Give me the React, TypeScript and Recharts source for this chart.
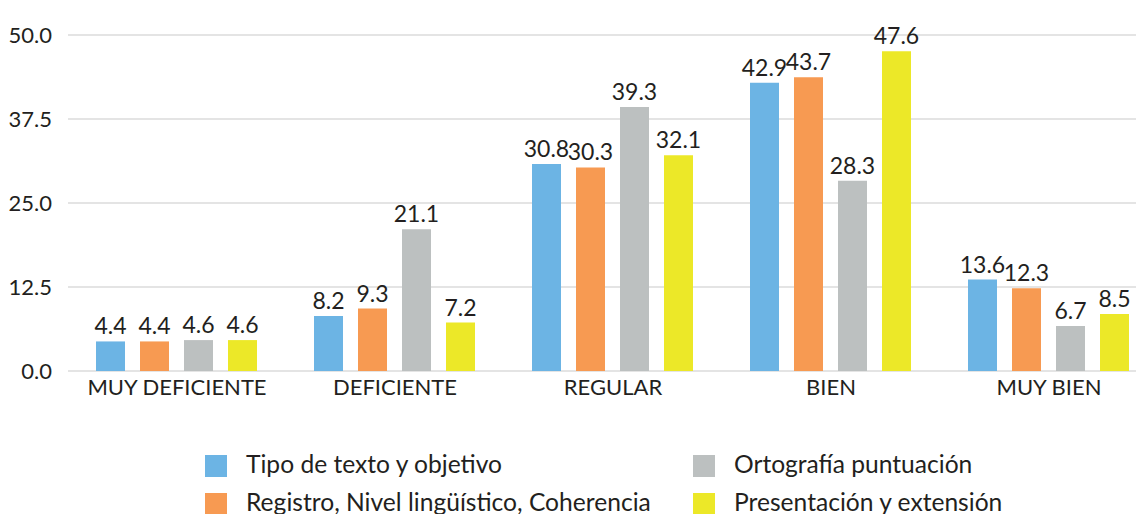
import { BarChart, Bar, XAxis, YAxis, CartesianGrid, Legend, LabelList } from 'recharts';

const categories = ['MUY DEFICIENTE', 'DEFICIENTE', 'REGULAR', 'BIEN', 'MUY BIEN'];
const tipo = [4.4, 8.2, 30.8, 42.9, 13.6];
const registro = [4.4, 9.3, 30.3, 43.7, 12.3];
const ortografia = [4.6, 21.1, 39.3, 28.3, 6.7];
const presentacion = [4.6, 7.2, 32.1, 47.6, 8.5];
const yTicks = [0, 12.5, 25, 37.5, 50];

const SERIES = [
  { key: 'tipo', name: 'Tipo de texto y objetivo', color: '#6cb4e4' },
  { key: 'registro', name: 'Registro, Nivel lingüístico, Coherencia', color: '#f79a52' },
  { key: 'ortografia', name: 'Ortografía puntuación', color: '#bcc0c0' },
  { key: 'presentacion', name: 'Presentación y extensión', color: '#ece828' },
];

const TEXT = '#231f20';

const data = categories.map((c, i) => ({
  name: c,
  tipo: tipo[i],
  registro: registro[i],
  ortografia: ortografia[i],
  presentacion: presentacion[i],
}));

// two columns, filled top-to-bottom like the original
function LegendBox() {
  return (
    <div
      style={{
        display: 'grid',
        gridTemplateColumns: '488px auto',
        gridTemplateRows: '38px 38px',
        gridAutoFlow: 'column',
        paddingLeft: 205,
      }}
    >
      {SERIES.map(s => (
        <div key={s.key} style={{ display: 'flex', alignItems: 'center' }}>
          <span style={{ width: 22, height: 22, background: s.color, marginRight: 19, flex: 'none' }} />
          <span style={{ fontSize: 24.6, color: TEXT, whiteSpace: 'nowrap', position: 'relative', top: -3 }}>
            {s.name}
          </span>
        </div>
      ))}
    </div>
  );
}

export default function App() {
  return (
    <div
      style={{
        position: 'absolute', left: 0, top: 0, width: 1136, height: 514,
        overflow: 'hidden', background: '#fff', fontFamily: 'Lato, "Open Sans", sans-serif',
      }}
    >
      <BarChart
        width={1158}
        height={514}
        data={data}
        margin={{ top: 35, right: 0, left: 0, bottom: 113 }}
        barCategoryGap={28}
        barGap={15}
      >
        <CartesianGrid vertical={false} stroke="#e4e4e4" strokeWidth={2} />
        <XAxis
          dataKey="name"
          axisLine={false}
          tickLine={false}
          interval={0}
          height={30}
          tick={{ fontSize: 22, fill: TEXT }}
        />
        <YAxis
          domain={[0, 50]}
          ticks={yTicks}
          width={68}
          axisLine={false}
          tickLine={false}
          tickMargin={10}
          tickFormatter={(v: number) => v.toFixed(1)}
          tick={{ fontSize: 22, fill: TEXT }}
        />
        <Legend
          layout="horizontal"
          verticalAlign="middle"
          align="center"
          wrapperStyle={{ top: 447, left: 0, bottom: 'auto', width: 1136 }}
          content={() => <LegendBox />}
        />
        {SERIES.map(s => (
          <Bar key={s.key} dataKey={s.key} name={s.name} fill={s.color} isAnimationActive={false}>
            <LabelList dataKey={s.key} position="top" offset={7} fontSize={23} fill={TEXT} />
          </Bar>
        ))}
      </BarChart>
    </div>
  );
}
